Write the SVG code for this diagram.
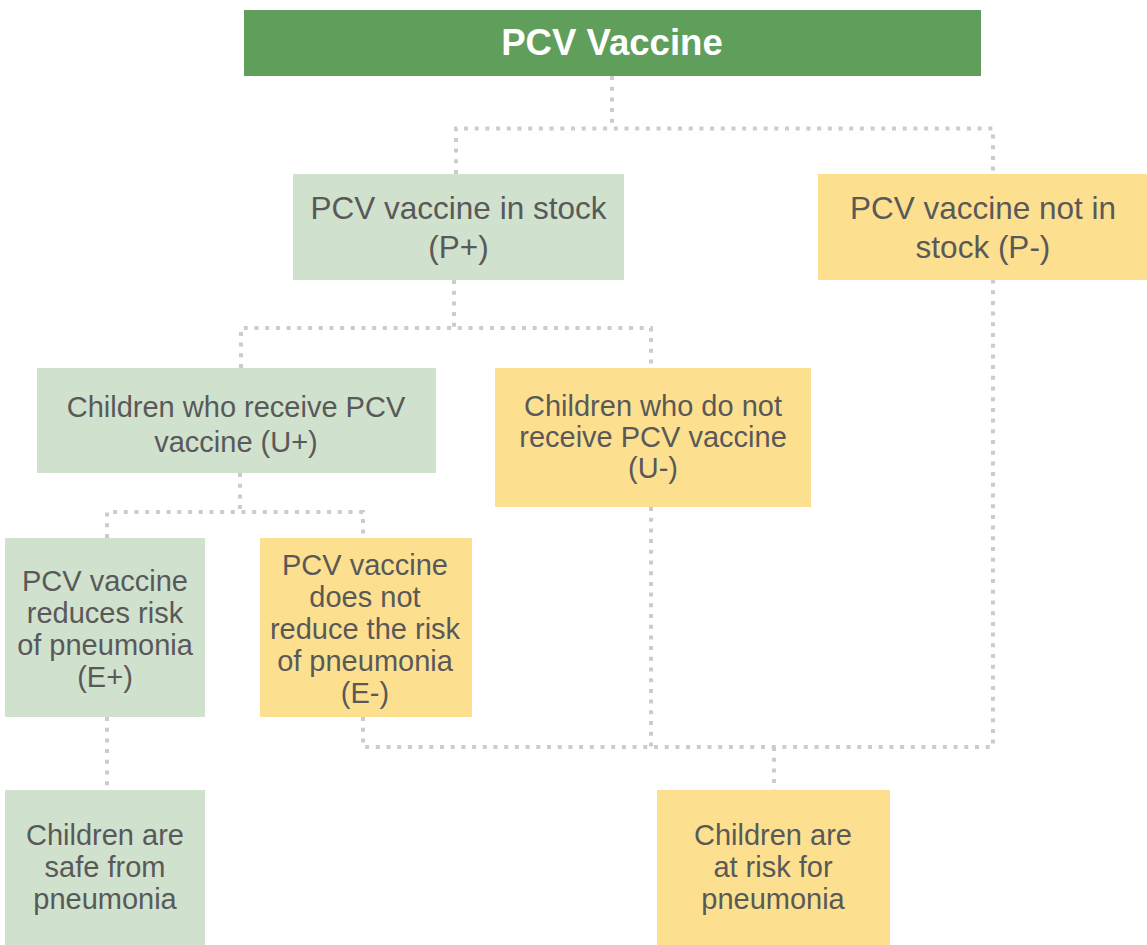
<svg xmlns="http://www.w3.org/2000/svg" width="1147" height="945" viewBox="0 0 1147 945">
<style>
.g{fill:#d0e1cd}
.y{fill:#fde08f}
.t{font-family:"Liberation Sans",Arial,sans-serif;fill:#595959;text-anchor:middle}
.t32{font-size:31.5px}
.t29{font-size:29px}
.c{fill:none;stroke:#cccccc;stroke-width:4;stroke-dasharray:4 6.7}
</style>
<rect width="1147" height="945" fill="#ffffff"/>
<g id="connectors">
<path class="c" d="M612 76 V128.5"/>
<path class="c" d="M456 174 V128.5 H993 V174"/>
<path class="c" d="M454 280 V328"/>
<path class="c" d="M241 368 V328 H651 V368"/>
<path class="c" d="M240 473 V512"/>
<path class="c" d="M107 538 V512 H363 V538"/>
<path class="c" d="M107 717 V790"/>
<path class="c" d="M363 717 V747 H993 V280"/>
<path class="c" d="M651 507 V747"/>
<path class="c" d="M774 747 V790"/>
</g>
<g id="title">
<rect x="244" y="10" width="737" height="66" fill="#5f9e5b"/>
<text x="612" y="55" font-family="Liberation Sans,Arial,sans-serif" font-size="36.6" font-weight="bold" fill="#ffffff" text-anchor="middle">PCV Vaccine</text>
</g>
<g id="p-plus">
<rect class="g" x="293" y="174" width="331" height="106"/>
<text class="t t32" x="458.5"><tspan x="458.5" y="219">PCV vaccine in stock</tspan><tspan x="458.5" y="258">(P+)</tspan></text>
</g>
<g id="p-minus">
<rect class="y" x="818" y="174" width="329" height="106"/>
<text class="t t32" x="983"><tspan x="983" y="219">PCV vaccine not in</tspan><tspan x="983" y="258">stock (P-)</tspan></text>
</g>
<g id="u-plus">
<rect class="g" x="37" y="368" width="399" height="105"/>
<text class="t t29" x="236"><tspan x="236" y="417">Children who receive PCV</tspan><tspan x="236" y="452">vaccine (U+)</tspan></text>
</g>
<g id="u-minus">
<rect class="y" x="495" y="368" width="316" height="139"/>
<text class="t t29" x="653"><tspan x="653" y="416">Children who do not</tspan><tspan x="653" y="447">receive PCV vaccine</tspan><tspan x="653" y="478">(U-)</tspan></text>
</g>
<g id="e-plus">
<rect class="g" x="5" y="538" width="200" height="179"/>
<text class="t t29" x="105"><tspan x="105" y="591">PCV vaccine</tspan><tspan x="105" y="623">reduces risk</tspan><tspan x="105" y="655">of pneumonia</tspan><tspan x="105" y="687">(E+)</tspan></text>
</g>
<g id="e-minus">
<rect class="y" x="260" y="538" width="212" height="179"/>
<text class="t t29" x="365"><tspan x="365" y="575">PCV vaccine</tspan><tspan x="365" y="607">does not</tspan><tspan x="365" y="639">reduce the risk</tspan><tspan x="365" y="671">of pneumonia</tspan><tspan x="365" y="703">(E-)</tspan></text>
</g>
<g id="safe">
<rect class="g" x="5" y="790" width="200" height="155"/>
<text class="t t29" x="105"><tspan x="105" y="845">Children are</tspan><tspan x="105" y="877">safe from</tspan><tspan x="105" y="909">pneumonia</tspan></text>
</g>
<g id="risk">
<rect class="y" x="657" y="790" width="233" height="155"/>
<text class="t t29" x="773"><tspan x="773" y="845">Children are</tspan><tspan x="773" y="877">at risk for</tspan><tspan x="773" y="909">pneumonia</tspan></text>
</g>
</svg>
